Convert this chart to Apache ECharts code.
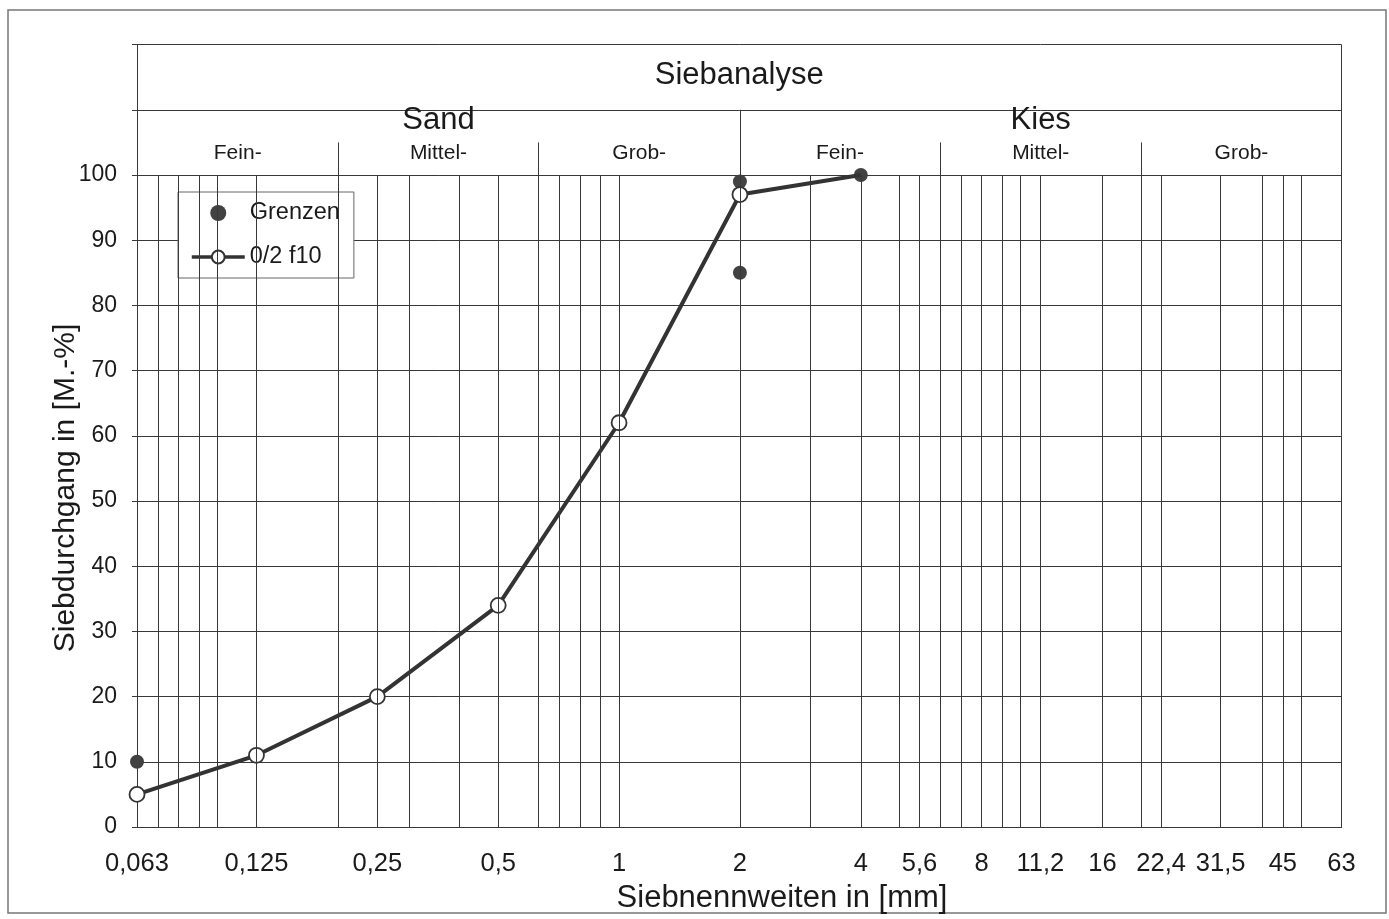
<!DOCTYPE html>
<html>
<head>
<meta charset="utf-8">
<script src="https://cdn.jsdelivr.net/npm/echarts@6/dist/echarts.min.js"></script>
<style>
html,body{margin:0;padding:0;background:#fff;}
#chart{width:1389px;height:919px;}
</style>
</head>
<body>
<div id="chart"></div>
<script>
// ---- data ----
const xTickLabels = [0.063, 0.125, 0.25, 0.5, 1, 2, 4, 5.6, 8, 11.2, 16, 22.4, 31.5, 45, 63];
const sieveLines = [0.071, 0.08, 0.09, 0.1, 0.125, 0.2, 0.25, 0.3, 0.4, 0.5, 0.63, 0.71, 0.8, 0.9, 1,
                    2, 3, 4, 5, 5.6, 6.3, 7.1, 8, 9, 10, 11.2, 16, 20, 22.4, 31.5, 40, 45, 50];
const curveSizes = [0.063, 0.125, 0.25, 0.5, 1, 2, 4];
const curvePassing = [5, 11, 20, 34, 62, 97, 100];
const limitSizes = [0.063, 2, 2, 4];
const limitPassing = [10, 85, 99, 100];
const classBounds = [0.063, 0.2, 0.63, 2, 6.3, 20, 63];
const fractionLabels = ['Fein-', 'Mittel-', 'Grob-', 'Fein-', 'Mittel-', 'Grob-'];
const mainBounds = [0.063, 2, 63];
const mainLabels = ['Sand', 'Kies'];
const headerTitle = 'Siebanalyse';
const xMin = 0.063, xMax = 63;

const FONT = "'Liberation Sans', Arial, sans-serif";
const LINE = '#383838';
const TXT = '#1a1a1a';

function fmtX(v) {
  let best = xTickLabels[0];
  xTickLabels.forEach(t => { if (Math.abs(Math.log(t / v)) < Math.abs(Math.log(best / v))) best = t; });
  return String(best).replace('.', ',');
}
const gmean = (a, b) => Math.sqrt(a * b);

// grid lines (vertical, 0..100)
const vLines = sieveLines.map(v => [{ coord: [v, 0] }, { coord: [v, 100] }]);
vLines.push([{ coord: [xMax, 0] }, { coord: [xMax, 120] }]);
// header dividers
vLines.push([{ coord: [mainBounds[1], 100] }, { coord: [mainBounds[1], 110] }]);
classBounds.slice(1, -1).forEach(v => {
  if (v !== mainBounds[1]) vLines.push([{ coord: [v, 100] }, { coord: [v, 105] }]);
});

// header labels
const headerData = [];
headerData.push({ value: [gmean(xMin, xMax), 115.3], label: { formatter: headerTitle, fontSize: 31 } });
mainLabels.forEach((t, i) => headerData.push({
  value: [gmean(mainBounds[i], mainBounds[i + 1]), 108.4], label: { formatter: t, fontSize: 31 } }));
fractionLabels.forEach((t, i) => headerData.push({
  value: [gmean(classBounds[i], classBounds[i + 1]), 103.3], label: { formatter: t, fontSize: 21 } }));

const chart = echarts.init(document.getElementById('chart'), null, { renderer: 'canvas' });
chart.setOption({
  animation: false,
  backgroundColor: '#fff',
  textStyle: { fontFamily: FONT },
  grid: { left: 137, right: 47.5, top: 44.6, bottom: 92, containLabel: false },
  xAxis: {
    type: 'log', logBase: 2, min: xMin, max: xMax,
    axisLine: { show: true, lineStyle: { color: LINE, width: 1 } },
    axisTick: { show: false },
    splitLine: { show: false },
    minorTick: { show: false },
    axisLabel: {
      customValues: xTickLabels,
      formatter: fmtX, fontSize: 25.5, color: TXT, margin: 24, fontFamily: FONT,
      showMinLabel: true, showMaxLabel: true, hideOverlap: false
    }
  },
  yAxis: {
    type: 'value', min: 0, max: 120, interval: 10,
    axisLine: { show: true, lineStyle: { color: LINE, width: 1 } },
    axisTick: { show: true, length: 5, lineStyle: { color: LINE } },
    splitLine: { show: true, lineStyle: { color: LINE, width: 1 } },
    axisLabel: { formatter: v => (v <= 100 ? String(v) : ''), fontSize: 23, color: TXT, margin: 20, fontFamily: FONT }
  },
  legend: {
    orient: 'vertical', left: 178, top: 192,
    data: ['Grenzen', '0/2 f10'],
    padding: [9, 14, 9, 12], itemGap: 20,
    itemWidth: 53, itemHeight: 16,
    backgroundColor: '#fff', borderColor: '#666', borderWidth: 1,
    textStyle: { fontSize: 23.5, color: TXT, fontFamily: FONT },
    lineStyle: { width: 3.5, color: '#333' },
    selectedMode: false
  },
  graphic: [
    { type: 'rect', shape: { x: 8, y: 10, width: 1378, height: 903 }, style: { fill: 'none', stroke: '#777', lineWidth: 1.5 }, silent: true, z: -10 },
    { type: 'text', x: 66, y: 488, rotation: Math.PI / 2, style: { text: 'Siebdurchgang in [M.-%]', fontSize: 30, fontFamily: FONT, fill: TXT, textAlign: 'center', textVerticalAlign: 'middle' } },
    { type: 'text', x: 782, y: 898, style: { text: 'Siebnennweiten in [mm]', fontSize: 31, fontFamily: FONT, fill: TXT, textAlign: 'center', textVerticalAlign: 'middle' } }
  ],
  series: [
    {
      name: 'header', type: 'scatter', symbol: 'circle', symbolSize: 0, silent: true, clip: false,
      itemStyle: { opacity: 1 },
      data: headerData,
      label: { show: true, position: 'inside', color: TXT, fontFamily: FONT },
      markLine: {
        silent: true, symbol: ['none', 'none'], animation: false,
        label: { show: false },
        lineStyle: { color: LINE, width: 1, type: 'solid', opacity: 1 },
        emphasis: { disabled: true },
        data: vLines
      },
      z: 1
    },
    {
      name: 'Grenzen', type: 'scatter', symbol: 'circle', symbolSize: 14,
      itemStyle: { color: '#424242', opacity: 1 },
      data: limitSizes.map((x, i) => [x, limitPassing[i]]),
      z: 3
    },
    {
      name: '0/2 f10', type: 'line', symbol: 'circle', symbolSize: 15, showAllSymbol: true,
      lineStyle: { color: '#333', width: 4 },
      itemStyle: { color: '#fff', borderColor: '#333', borderWidth: 1.8 },
      data: curveSizes.map((x, i) => (i === curveSizes.length - 1
        ? { value: [x, curvePassing[i]], symbol: 'none' }
        : [x, curvePassing[i]])),
      z: 4
    }
  ]
});
</script>
</body>
</html>
